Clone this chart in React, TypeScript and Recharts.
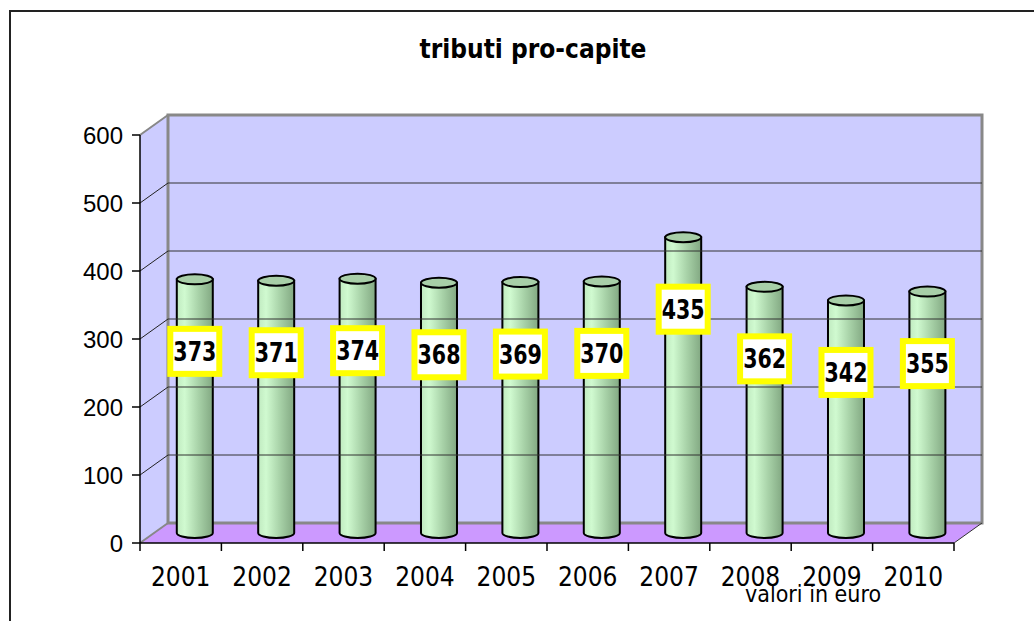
import React from 'react';
import { BarChart, Bar, XAxis, YAxis, ReferenceArea, ReferenceLine, LabelList } from 'recharts';

// dati
const years = ['2001', '2002', '2003', '2004', '2005', '2006', '2007', '2008', '2009', '2010'];
const tributi = [373, 371, 374, 368, 369, 370, 435, 362, 342, 355];
const yTicks = [0, 100, 200, 300, 400, 500, 600];
const gridValues = [100, 200, 300, 400, 500];

const data = years.map((year, i) => ({ year, value: tributi[i] }));

// profondità della scena 3D
const DX = 28;
const DY = -20;

const WALL = '#ccccff';
const FLOOR = '#cc99ff';
const EDGE = '#888888';

const Walls = (props: any) => {
    const { x, y, width: w, height: h } = props;
    return (
        <g>
            <polygon points={`${x},${y} ${x + DX},${y + DY} ${x + DX},${y + h + DY} ${x},${y + h}`} fill={WALL} />
            <rect x={x + DX} y={y + DY} width={w} height={h} fill={WALL} />
            <polygon
                points={`${x},${y + h} ${x + DX},${y + h + DY} ${x + w + DX},${y + h + DY} ${x + w},${y + h}`}
                fill={FLOOR}
            />
            <rect x={x + DX} y={y + DY} width={w} height={h} fill="none" stroke={EDGE} strokeWidth={3} />
            <line x1={x} y1={y} x2={x + DX} y2={y + DY} stroke={EDGE} strokeWidth={2} />
            <line x1={x} y1={y + h} x2={x + DX} y2={y + h + DY} stroke={EDGE} strokeWidth={2} />
            <line x1={x + w} y1={y + h} x2={x + w + DX} y2={y + h + DY} stroke="#333" strokeWidth={1} />
        </g>
    );
};

const GridLine = (props: any) => {
    const { x1, y1, x2, y2 } = props;
    return (
        <g>
            <line x1={x1} y1={y1} x2={x1 + DX} y2={y1 + DY} stroke="#222" strokeWidth={1} />
            <line x1={x1 + DX} y1={y1 + DY} x2={x2 + DX} y2={y2 + DY} stroke="#333" strokeWidth={1} />
        </g>
    );
};

const Cylinder = (props: any) => {
    const { x, y, width, height, index } = props;
    if (width == null || height == null) return null;
    const x0 = x + DX / 2;
    const x1 = x0 + width;
    const top = y + DY / 2;
    const bottom = y + height + DY / 2;
    const rx = width / 2;
    const ry = 5;
    const id = `cyl-${index}`;
    return (
        <g>
            <defs>
                <linearGradient id={id} x1="0" y1="0" x2="1" y2="0">
                    <stop offset="0%" stopColor="#c0eac0" />
                    <stop offset="22%" stopColor="#d0fad0" />
                    <stop offset="60%" stopColor="#a8d2a8" />
                    <stop offset="100%" stopColor="#82a882" />
                </linearGradient>
            </defs>
            <path
                d={`M${x0},${top} V${bottom} A${rx},${ry} 0 0 0 ${x1},${bottom} V${top} Z`}
                fill={`url(#${id})`}
                stroke="#000"
                strokeWidth={2}
            />
            <ellipse cx={x0 + rx} cy={top} rx={rx} ry={ry} fill="#a8cfa8" stroke="#000" strokeWidth={2} />
        </g>
    );
};

const ValueBox = (props: any) => {
    const { x, y, width, value } = props;
    const cx = x + width / 2 + DX / 2;
    const cy = y + DY / 2 + 72;
    return (
        <g>
            <rect x={cx - 24.5} y={cy - 22.5} width={49} height={45} fill="#fff" stroke="#ffff00" strokeWidth={6} />
            <text
                transform={`translate(${cx},${cy + 9.5}) scale(0.88,1)`}
                textAnchor="middle"
                fontFamily="'DejaVu Sans Condensed', 'DejaVu Sans'"
                fontWeight="bold"
                fontSize={26}
                fill="#000"
            >
                {value}
            </text>
        </g>
    );
};

const YearTick = (props: any) => {
    const { x, y, payload, index } = props;
    const half = payload && payload.offset ? payload.offset : 40.7;
    return (
        <g>
            {index === 0 && <line x1={x - half} y1={y} x2={x - half} y2={y + 8} stroke="#000" strokeWidth={1.5} />}
            <line x1={x + half} y1={y} x2={x + half} y2={y + 8} stroke="#000" strokeWidth={1.5} />
            <text
                x={x}
                y={y + 43}
                textAnchor="middle"
                fontFamily="'DejaVu Sans Condensed', 'DejaVu Sans'"
                fontSize={26}
                fill="#000"
            >
                {payload.value}
            </text>
        </g>
    );
};

const App: React.FC = () => {
    return (
        <div style={{ position: 'fixed', left: 0, top: 0, width: 1034, height: 621, overflow: 'hidden', background: '#fff' }}>
            <div
                style={{
                    position: 'absolute',
                    left: 9,
                    top: 10,
                    width: 1100,
                    height: 700,
                    borderLeft: '2px solid #222',
                    borderTop: '2px solid #222',
                }}
            />
            <div
                style={{
                    position: 'absolute',
                    left: 0,
                    top: 34,
                    width: 1066,
                    textAlign: 'center',
                    fontFamily: "'DejaVu Sans Condensed', 'DejaVu Sans'",
                    fontWeight: 'bold',
                    fontSize: 26,
                    lineHeight: '30px',
                    color: '#000',
                }}
            >
                tributi pro-capite
            </div>
            <div style={{ position: 'absolute', left: 0, top: 0 }}>
                <BarChart
                    width={1034}
                    height={621}
                    data={data}
                    margin={{ top: 135, right: 80, bottom: 38, left: 80 }}
                    barCategoryGap="28%"
                >
                    <ReferenceArea y1={0} y2={600} shape={<Walls />} ifOverflow="visible" />
                    {gridValues.map((v) => (
                        <ReferenceLine key={v} y={v} shape={<GridLine />} />
                    ))}
                    <XAxis
                        dataKey="year"
                        height={40}
                        axisLine={{ stroke: '#000', strokeWidth: 1.5 }}
                        tickLine={false}
                        tickSize={0}
                        tickMargin={0}
                        interval={0}
                        tick={<YearTick />}
                    />
                    <YAxis
                        width={60}
                        domain={[0, 600]}
                        ticks={yTicks}
                        interval={0}
                        axisLine={{ stroke: '#000', strokeWidth: 1.5 }}
                        tickLine={{ stroke: '#000', strokeWidth: 1.5 }}
                        tickSize={8}
                        tickMargin={9}
                        tick={{ fill: '#000', fontSize: 24, fontFamily: "'Liberation Sans', Arial" }}
                    />
                    <Bar dataKey="value" shape={<Cylinder />} isAnimationActive={false}>
                        <LabelList dataKey="value" content={<ValueBox />} />
                    </Bar>
                </BarChart>
            </div>
            <div
                style={{
                    position: 'absolute',
                    left: 745,
                    top: 581,
                    fontFamily: "'DejaVu Sans Condensed', 'DejaVu Sans'",
                    fontSize: 23,
                    lineHeight: '26px',
                    color: '#000',
                    whiteSpace: 'nowrap',
                }}
            >
                valori in euro
            </div>
        </div>
    );
};

export default App;
